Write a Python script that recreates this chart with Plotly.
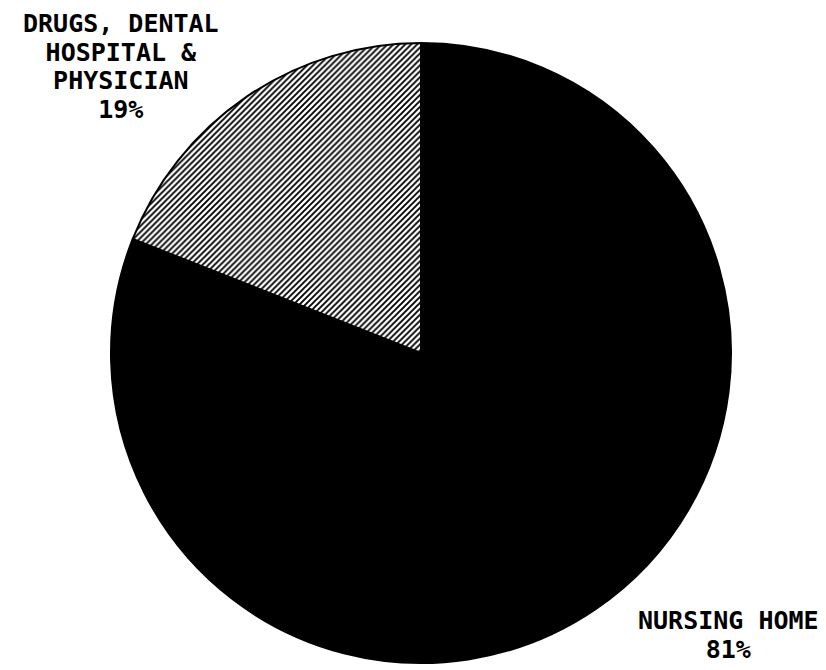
import plotly.graph_objects as go

labels = ["NURSING HOME", "DRUGS, DENTAL HOSPITAL & PHYSICIAN"]
values = [81, 19]
label_lines_small = ["DRUGS, DENTAL", "HOSPITAL &", "PHYSICIAN", "19%"]
label_lines_big = ["NURSING HOME", "81%"]

W, H = 826, 670
cx, cy, r = 413, 345, 310

fig = go.Figure(go.Pie(
    labels=labels,
    values=values,
    sort=False,
    direction="counterclockwise",
    rotation=0,
    textinfo="none",
    hoverinfo="label+percent",
    showlegend=False,
    marker=dict(
        colors=["black", "white"],
        line=dict(color="black", width=2),
        pattern=dict(shape=["", "/"], fgcolor=["black", "black"],
                     bgcolor=["black", "white"], size=4.2, solidity=0.45),
    ),
    domain=dict(x=[(cx - r) / W, (cx + r) / W],
                y=[1 - (cy + r) / H, 1 - (cy - r) / H]),
))


def block(lines, px):
    return "<br>".join(
        '<span style="font-size:%dpx">%s</span>' % (px, t) for t in lines)


ann = [
    dict(text=block(label_lines_small, 25), x=113 / W, y=1 - 58 / H,
         xref="paper", yref="paper", xanchor="center", yanchor="middle",
         showarrow=False, align="center",
         font=dict(family="DejaVu Sans Mono", size=22, color="black", weight="bold")),
    dict(text=block(label_lines_big, 25), x=720 / W, y=1 - 627 / H,
         xref="paper", yref="paper", xanchor="center", yanchor="middle",
         showarrow=False, align="center",
         font=dict(family="DejaVu Sans Mono", size=22, color="black", weight="bold")),
]

fig.update_layout(
    width=W, height=H,
    margin=dict(l=0, r=0, t=0, b=0),
    paper_bgcolor="white", plot_bgcolor="white",
    annotations=ann,
)
fig.write_html("out.html")
